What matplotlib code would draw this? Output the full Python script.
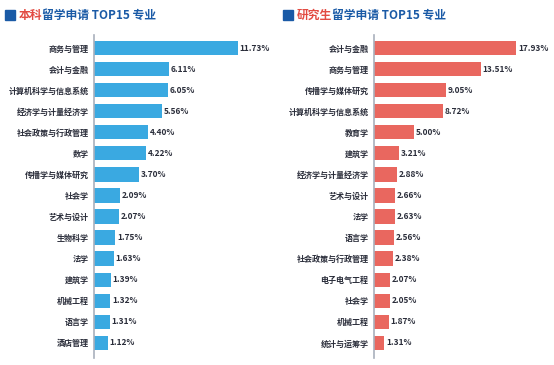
import matplotlib
matplotlib.use("Agg")
import matplotlib.pyplot as plt
import matplotlib.patches as patches

plt.rcParams['font.family'] = ['Noto Sans CJK SC', 'DejaVu Sans']

# undergraduate data
ug_majors = ["商务与管理", "会计与金融", "计算机科学与信息系统", "经济学与计量经济学",
             "社会政策与行政管理", "数学", "传播学与媒体研究", "社会学", "艺术与设计",
             "生物科学", "法学", "建筑学", "机械工程", "语言学", "酒店管理"]
ug_values = [11.73, 6.11, 6.05, 5.56, 4.40, 4.22, 3.70, 2.09, 2.07,
             1.75, 1.63, 1.39, 1.32, 1.31, 1.12]

# graduate data
pg_majors = ["会计与金融", "商务与管理", "传播学与媒体研究", "计算机科学与信息系统",
             "教育学", "建筑学", "经济学与计量经济学", "艺术与设计", "法学", "语言学",
             "社会政策与行政管理", "电子电气工程", "社会学", "机械工程", "统计与运筹学"]
pg_values = [17.93, 13.51, 9.05, 8.72, 5.00, 3.21, 2.88, 2.66, 2.63, 2.56,
             2.38, 2.07, 2.05, 1.87, 1.31]

W, H = 554, 365
fig = plt.figure(figsize=(W / 100, H / 100), dpi=100)

text_color = "#2a2d3a"
title_blue = "#1a5aa6"
title_red = "#e24b42"


def panel(left_px, xmax, majors, values, color, red_word, title_x):
    ax = fig.add_axes([left_px / W, 7 / H, 176 / W, 323 / H])
    pos = list(range(len(majors)))
    ax.barh(pos, values, height=0.68, color=color)
    for p, v in zip(pos, values):
        ax.text(v + xmax * 0.01, p, f"{v:.2f}%", va="center", ha="left",
                fontsize=6, fontweight="bold", color=text_color)
    ax.set_yticks(pos)
    ax.set_yticklabels(majors, fontsize=5.8, fontweight="bold", color=text_color)
    ax.tick_params(axis="y", length=0, pad=4)
    ax.set_xticks([])
    ax.set_xlim(0, xmax)
    ax.set_ylim(14.72, -0.62)
    for s in ["top", "right", "bottom"]:
        ax.spines[s].set_visible(False)
    ax.spines["left"].set_color("#a9b0bc")
    ax.spines["left"].set_linewidth(1.2)

    # title with square marker
    fig.patches.append(patches.Rectangle(((title_x) / W, (H - 20) / H), 10 / W, 10 / H,
                                         transform=fig.transFigure, color=title_blue))
    t1 = fig.text((title_x + 14) / W, (H - 15) / H, red_word, fontsize=8.5,
                  fontweight="bold", color=title_red, va="center", ha="left")
    fig.canvas.draw()
    bb = t1.get_window_extent()
    fig.text(bb.x1 / W, (H - 15) / H, "留学申请 TOP15 专业", fontsize=8.5,
             fontweight="bold", color=title_blue, va="center", ha="left")


panel(94, 14.33, ug_majors, ug_values, "#3aa9e1", "本科", 5)
panel(374, 22.2, pg_majors, pg_values, "#e9675f", "研究生", 283)

fig.savefig("out.png", dpi=100)
